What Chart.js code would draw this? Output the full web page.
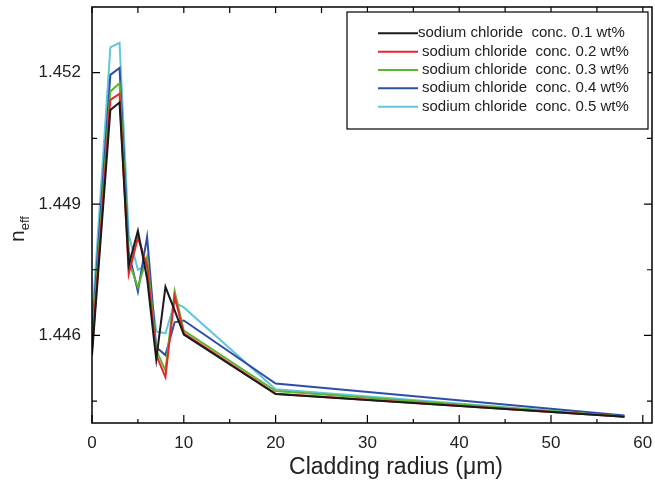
<!DOCTYPE html>
<html>
<head>
<meta charset="utf-8">
<script src="https://cdn.jsdelivr.net/npm/chart.js@4.4.1/dist/chart.umd.min.js"></script>
<style>
  html, body { margin: 0; padding: 0; background: #fff; }
  #wrap { width: 655px; height: 492px; }
</style>
</head>
<body>
<div id="wrap"><canvas id="chart" width="655" height="492"></canvas></div>
<script>
// Data
const radius = [0, 2, 3, 4, 5, 6, 7, 8, 9, 10, 20, 58];
const conc01 = [1.44555, 1.45115, 1.45132, 1.44760, 1.44839, 1.44730, 1.44545, 1.44711, 1.44657, 1.44602, 1.44466, 1.44414];
const conc02 = [1.44566, 1.45138, 1.45152, 1.44740, 1.44823, 1.44760, 1.44555, 1.44505, 1.44689, 1.44605, 1.44467, 1.44414];
const conc03 = [1.44582, 1.45157, 1.45176, 1.44770, 1.44710, 1.44780, 1.44566, 1.44520, 1.44701, 1.44611, 1.44473, 1.44415];
const conc04 = [1.44600, 1.45195, 1.45211, 1.44790, 1.44700, 1.44825, 1.44573, 1.44555, 1.44630, 1.44634, 1.44490, 1.44417];
const conc05 = [1.44630, 1.45258, 1.45268, 1.44830, 1.44750, 1.44760, 1.44609, 1.44605, 1.44675, 1.44664, 1.44477, 1.44415];

const seriesLabels = [
  'sodium chloride  conc. 0.1 wt%',
  'sodium chloride  conc. 0.2 wt%',
  'sodium chloride  conc. 0.3 wt%',
  'sodium chloride  conc. 0.4 wt%',
  'sodium chloride  conc. 0.5 wt%'
];
const seriesColors = ['#1a1a1a', '#e8242c', '#5cb531', '#2f4ea6', '#62c6dc'];

const xTicks = [0, 10, 20, 30, 40, 50, 60];
const xMinorTicks = [5, 15, 25, 35, 45, 55];
const yTicks = [1.446, 1.449, 1.452];
const yMinorTicks = [1.4445, 1.4475, 1.4505];

const FONT = '"Liberation Sans", Arial, sans-serif';

function toPoints(ys) {
  return radius.map((x, i) => ({ x: x, y: ys[i] }));
}

// Box frame with inward ticks, axis titles and boxed legend
const framePlugin = {
  id: 'frame',
  afterDraw(chart) {
    const ctx = chart.ctx;
    const area = chart.chartArea;
    const xs = chart.scales.x;
    const ys = chart.scales.y;

    ctx.save();
    ctx.strokeStyle = '#000';
    ctx.lineWidth = 1.5;
    ctx.strokeRect(area.left, area.top, area.right - area.left, area.bottom - area.top);

    ctx.lineWidth = 1.2;
    ctx.beginPath();
    xTicks.forEach(v => {
      const px = xs.getPixelForValue(v);
      ctx.moveTo(px, area.bottom); ctx.lineTo(px, area.bottom - 8);
      ctx.moveTo(px, area.top); ctx.lineTo(px, area.top + 6);
    });
    xMinorTicks.forEach(v => {
      const px = xs.getPixelForValue(v);
      ctx.moveTo(px, area.bottom); ctx.lineTo(px, area.bottom - 4);
      ctx.moveTo(px, area.top); ctx.lineTo(px, area.top + 6);
    });
    yTicks.forEach(v => {
      const py = ys.getPixelForValue(v);
      ctx.moveTo(area.left, py); ctx.lineTo(area.left + 8, py);
      ctx.moveTo(area.right, py); ctx.lineTo(area.right - 8, py);
    });
    yMinorTicks.forEach(v => {
      const py = ys.getPixelForValue(v);
      ctx.moveTo(area.left, py); ctx.lineTo(area.left + 5, py);
      ctx.moveTo(area.right, py); ctx.lineTo(area.right - 5, py);
    });
    ctx.stroke();

    // x title
    ctx.fillStyle = '#222';
    ctx.font = '23px ' + FONT;
    ctx.textAlign = 'center';
    ctx.textBaseline = 'middle';
    ctx.fillText('Cladding radius (\u03bcm)', 396, 468);

    // y title n_eff, rotated
    ctx.save();
    ctx.translate(24, 232);
    ctx.rotate(-Math.PI / 2);
    ctx.textAlign = 'left';
    ctx.textBaseline = 'alphabetic';
    ctx.font = '21px ' + FONT;
    ctx.fillText('n', -10, 0);
    const nW = ctx.measureText('n').width;
    ctx.font = '13px ' + FONT;
    ctx.fillText('eff', -10 + nW, 5);
    ctx.restore();

    // legend box
    const lx = 347, ly = 12, lw = 301, lh = 117;
    ctx.fillStyle = '#fff';
    ctx.fillRect(lx, ly, lw, lh);
    ctx.strokeStyle = '#000';
    ctx.lineWidth = 1.2;
    ctx.strokeRect(lx, ly, lw, lh);
    ctx.font = '15px ' + FONT;
    ctx.textBaseline = 'middle';
    ctx.textAlign = 'left';
    chart.data.datasets.forEach((ds, i) => {
      const rowY = 33.3 + i * 18.35;
      ctx.strokeStyle = ds.borderColor;
      ctx.lineWidth = 2;
      ctx.beginPath();
      ctx.moveTo(378, rowY);
      ctx.lineTo(418, rowY);
      ctx.stroke();
      ctx.fillStyle = '#222';
      ctx.fillText(ds.label, i === 0 ? 418 : 422, rowY);
    });
    ctx.restore();
  }
};

const ctx = document.getElementById('chart').getContext('2d');
const chart = new Chart(ctx, {
  type: 'line',
  data: {
    datasets: [conc01, conc02, conc03, conc04, conc05].map((ys, i) => ({
      label: seriesLabels[i],
      data: toPoints(ys),
      borderColor: seriesColors[i],
      backgroundColor: seriesColors[i],
      borderWidth: 2,
      pointRadius: 0,
      tension: 0,
      fill: false
    }))
  },
  options: {
    responsive: false,
    animation: false,
    devicePixelRatio: 1,
    layout: { padding: { top: 7, right: 3, left: 0, bottom: 0 } },
    plugins: {
      legend: { display: false },
      tooltip: { enabled: false }
    },
    scales: {
      x: {
        type: 'linear',
        min: 0,
        max: 61,
        grid: { display: false, drawTicks: false },
        border: { display: false },
        afterBuildTicks: scale => { scale.ticks = xTicks.map(v => ({ value: v })); },
        afterFit: scale => {
          scale.height = 69;
          scale.paddingLeft = 0;
          scale.paddingRight = 0;
        },
        ticks: {
          color: '#222',
          padding: 10,
          maxRotation: 0,
          font: { family: FONT, size: 17 },
          callback: v => String(v)
        }
      },
      y: {
        type: 'linear',
        min: 1.444,
        max: 1.4535,
        grid: { display: false, drawTicks: false },
        border: { display: false },
        afterBuildTicks: scale => { scale.ticks = yTicks.map(v => ({ value: v })); },
        afterFit: scale => {
          scale.width = 92;
          scale.paddingTop = 0;
          scale.paddingBottom = 0;
        },
        ticks: {
          color: '#222',
          padding: 11,
          font: { family: FONT, size: 17 },
          callback: v => Number(v).toFixed(3)
        }
      }
    }
  },
  plugins: [framePlugin]
});
</script>
</body>
</html>
